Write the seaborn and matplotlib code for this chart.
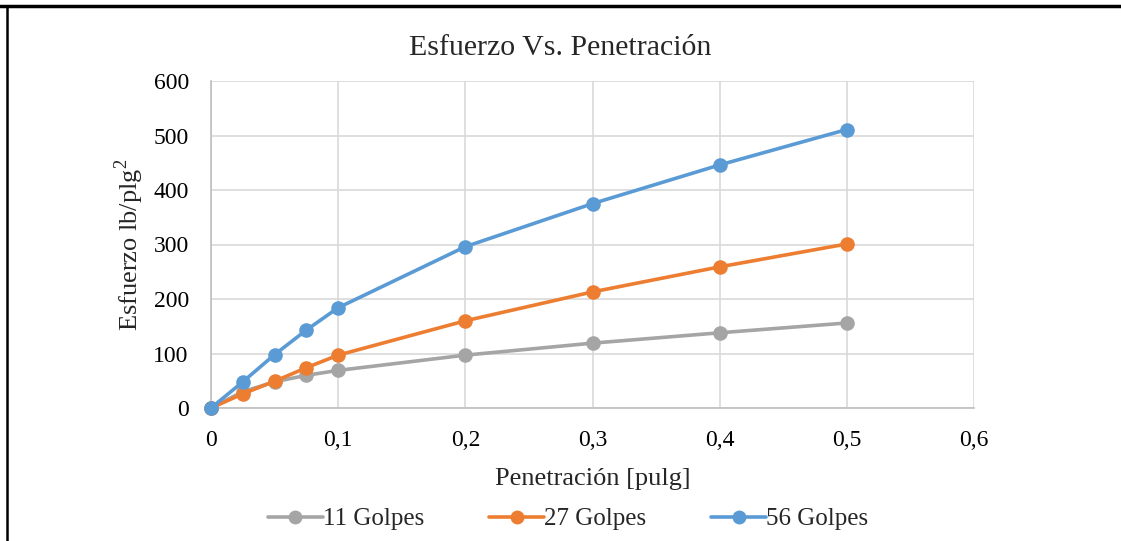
import matplotlib
matplotlib.use("Agg")
import matplotlib.pyplot as plt
import seaborn as sns
import pandas as pd
from matplotlib.lines import Line2D
from matplotlib.ticker import FuncFormatter, MultipleLocator

penetracion = [0, 0.025, 0.05, 0.075, 0.1, 0.2, 0.3, 0.4, 0.5]
golpes_11 = [0, 30, 48, 60, 69, 97, 119, 138, 156]
golpes_27 = [0, 26, 49, 74, 97, 160, 213, 259, 301]
golpes_56 = [0, 48, 98, 143, 184, 296, 375, 446, 511]
series_names = ["11 Golpes", "27 Golpes", "56 Golpes"]
colors = ["#A5A5A5", "#ED7D31", "#5B9BD5"]

df = pd.concat([
    pd.DataFrame({"x": penetracion, "y": vals, "serie": name})
    for name, vals in zip(series_names, [golpes_11, golpes_27, golpes_56])
])

sns.set_style("white")
plt.rcParams["font.family"] = ["Liberation Serif", "DejaVu Serif"]
plt.rcParams["mathtext.fontset"] = "custom"
plt.rcParams["mathtext.rm"] = "Liberation Serif"

fig = plt.figure(figsize=(11.21, 5.41), dpi=100)
ax = fig.add_axes([211/1121, 1-408/541, (974-211)/1121, (408-81)/541])

sns.lineplot(data=df, x="x", y="y", hue="serie", palette=colors, hue_order=series_names,
             marker="o", markersize=10.5, markeredgewidth=0, linewidth=2.6,
             ax=ax, legend=False, zorder=3, clip_on=False)

ax.set_xlim(0, 0.6)
ax.set_ylim(0, 600)
ax.xaxis.set_major_locator(MultipleLocator(0.1))
ax.yaxis.set_major_locator(MultipleLocator(100))
ax.xaxis.set_major_formatter(FuncFormatter(lambda v, p: ("%g" % round(v, 2)).replace(".", ",")))
ax.grid(True, color="#D9D9D9", linewidth=1.2)
for s in ["top", "right"]:
    ax.spines[s].set_visible(False)
for s in ["left", "bottom"]:
    ax.spines[s].set_color("#BFBFBF")
    ax.spines[s].set_linewidth(1.2)
ax.tick_params(axis="both", length=0, labelsize=17, colors="black")
ax.tick_params(axis="y", pad=16)
ax.tick_params(axis="x", pad=16)
ax.set_xlabel("Penetración [pulg]", fontsize=19, labelpad=12)
ax.set_ylabel("Esfuerzo lb/plg$^2$", fontsize=19, labelpad=5)
fig.text(0.5, 1-48/541, "Esfuerzo Vs. Penetración", fontsize=21.5, ha="center", va="center")

handles = [Line2D([0], [0], color=c, marker="o", markersize=10, markeredgewidth=0, linewidth=2.6)
           for c in colors]
fig.legend(handles, series_names, loc="center", bbox_to_anchor=(568/1121, 1-519/541), ncol=3,
           frameon=False, fontsize=18, handlelength=2.2, handletextpad=0.0, columnspacing=2.6)

# frame lines of the surrounding document
fig.add_artist(Line2D([0, 1], [1-6/541, 1-6/541], color="black", linewidth=2.5,
                      transform=fig.transFigure))
fig.add_artist(Line2D([6.5/1121, 6.5/1121], [0, 1-6/541], color="black", linewidth=1.8,
                      transform=fig.transFigure))
fig.text(0.5, 1.0, "Gráfica Esfuerzo vs Penetración", color="#A0A0A0", fontsize=21,
         ha="center", va="baseline")

fig.savefig("out.png", dpi=100, facecolor="white")
